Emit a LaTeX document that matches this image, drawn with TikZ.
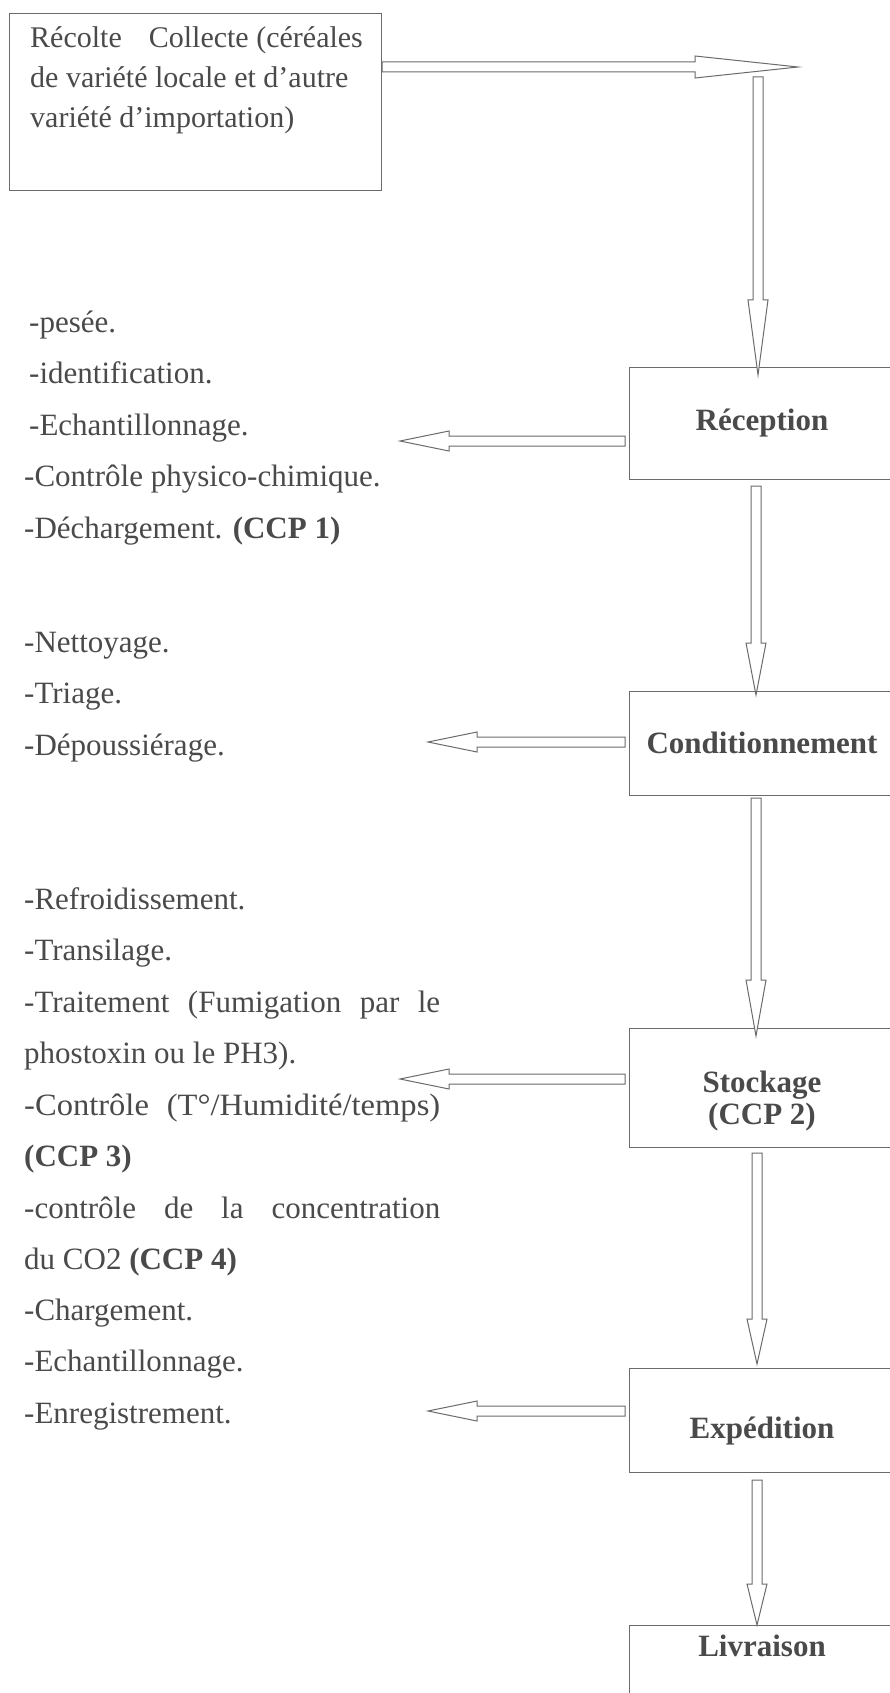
\documentclass[tikz,border=0pt]{standalone}
\usepackage{fontspec}
\usepackage{graphicx}
\setmainfont{Liberation Serif}
\usetikzlibrary{calc}
\definecolor{ink}{HTML}{4A4A4A}
\definecolor{rule}{HTML}{6B6B6B}
\newcommand{\blockarrow}[4]{%
  \coordinate (bah) at ($(#2)!#3!(#1)$);
  \draw[arrowline] ($(#1)!5pt!90:(#2)$) -- ($(bah)!5pt!90:(#2)$) -- ($(bah)!#4!90:(#2)$) -- (#2)
    -- ($(bah)!#4!-90:(#2)$) -- ($(bah)!5pt!-90:(#2)$) -- ($(#1)!5pt!-90:(#2)$) -- cycle;
}
\tikzset{
  stepbox/.style={draw=rule, line width=1pt, text=ink, inner sep=0pt, minimum width=266pt,
    font=\fontsize{31}{35}\selectfont\bfseries, align=center},
  boxtext/.style={inner sep=0pt, text=ink, font=\fontsize{31}{32}\selectfont\bfseries, align=center},
  item/.style={anchor=base west, inner sep=0pt, text=ink, font=\fontsize{31}{37}\selectfont},
  topitem/.style={anchor=base west, inner sep=0pt, text=ink, font=\fontsize{30}{36}\selectfont},
  arrowline/.style={draw=rule, line width=1pt, fill=white, line join=miter},
}
\begin{document}
\begin{tikzpicture}[x=1pt, y=-1pt]
\useasboundingbox (0,0) rectangle (890,1693);
\clip (0,0) rectangle (890,1693);
\fill[white] (0,0) rectangle (890,1693);

% top box
\node[draw=rule, line width=1pt, inner sep=0pt, minimum width=372pt, minimum height=177pt, anchor=north west] (recolte) at (9,13) {};
\node[topitem] (t1) at (30,48) {Récolte\hspace{0.65em} Collecte (céréales};
\node[topitem] (t2) at (30,88) {de variété locale et d’autre};
\node[topitem] (t3) at (30,128) {variété d’importation)};

% process boxes
\node[stepbox, minimum height=112pt] (rec) at (762,423) {Réception};
\node[stepbox, minimum height=104pt] (cond) at (762,743) {Conditionnement};
\node[stepbox, minimum height=119pt] (stock) at (762,1087.5) {};
\node[boxtext] (stocktxt) at (762,1101) {Stockage\\(CCP 2)};
\node[stepbox, minimum height=104pt] (exp) at (762,1420) {};
\node[boxtext, anchor=base] (exptxt) at (762,1438) {Expédition};
\node[stepbox, minimum height=130pt, anchor=north] (liv) at (762,1625) {};
\node[boxtext, anchor=base] (livtxt) at (762,1656) {Livraison};

% arrow coordinates
\coordinate (h0) at (recolte.east |- 0,67);
\coordinate (h0t) at (798,67);
\coordinate (v1s) at (758,77);   \coordinate (v1t) at (758,375);
\coordinate (v2s) at (756,486);  \coordinate (v2t) at (756,695);
\coordinate (v3s) at (756,798);  \coordinate (v3t) at (756,1036);
\coordinate (v4s) at (757,1153); \coordinate (v4t) at (757,1364);
\coordinate (v5s) at (757,1480); \coordinate (v5t) at (757,1625);
\coordinate (l1s) at (625,441);  \coordinate (l1t) at (400,441);
\coordinate (l2s) at (625,742);  \coordinate (l2t) at (428,742);
\coordinate (l3s) at (625,1079); \coordinate (l3t) at (400,1079);
\coordinate (l4s) at (625,1411); \coordinate (l4t) at (428,1411);

\blockarrow{h0}{h0t}{103pt}{11pt}
\blockarrow{v1s}{v1t}{75pt}{10pt}
\blockarrow{v2s}{v2t}{52pt}{10pt}
\blockarrow{v3s}{v3t}{56pt}{10pt}
\blockarrow{v4s}{v4t}{45pt}{10pt}
\blockarrow{v5s}{v5t}{41pt}{10pt}
\blockarrow{l1s}{l1t}{49pt}{10pt}
\blockarrow{l2s}{l2t}{49pt}{10pt}
\blockarrow{l3s}{l3t}{49pt}{10pt}
\blockarrow{l4s}{l4t}{49pt}{10pt}

% group 1
\node[item] (a1) at (29,332) {-pesée.};
\node[item] (a2) at (29,383.5) {-identification.};
\node[item] (a3) at (29,435) {-Echantillonnage.};
\node[item] (a4) at (24,486.5) {-Contrôle physico-chimique.};
\node[item] (a5) at (24,538) {-Déchargement. \textbf{(CCP 1)}};
% group 2
\node[item] (b1) at (24,652) {-Nettoyage.};
\node[item] (b2) at (24,703.5) {-Triage.};
\node[item] (b3) at (24,755) {-Dépoussiérage.};
% group 3
\node[item] (c1) at (24,909) {-Refroidissement.};
\node[item] (c2) at (24,960.5) {-Transilage.};
\node[item] (c3) at (24,1012) {\makebox[416pt][s]{-Traitement (Fumigation par le}};
\node[item] (c4) at (24,1063.5) {phostoxin ou le PH3).};
\node[item] (c5) at (24,1115) {\makebox[416pt][s]{\scalebox{1.05}[1]{-Contrôle} \scalebox{1.05}[1]{(T°/Humidité/temps)}}};
\node[item] (c6) at (24,1166.5) {\textbf{(CCP 3)}};
\node[item] (c7) at (24,1218) {\makebox[416pt][s]{-contrôle de la concentration}};
\node[item] (c8) at (24,1269.5) {du CO2 \textbf{(CCP 4)}};
% group 4
\node[item] (d1) at (24,1320) {-Chargement.};
\node[item] (d2) at (24,1371.5) {-Echantillonnage.};
\node[item] (d3) at (24,1423) {-Enregistrement.};
\end{tikzpicture}
\end{document}
